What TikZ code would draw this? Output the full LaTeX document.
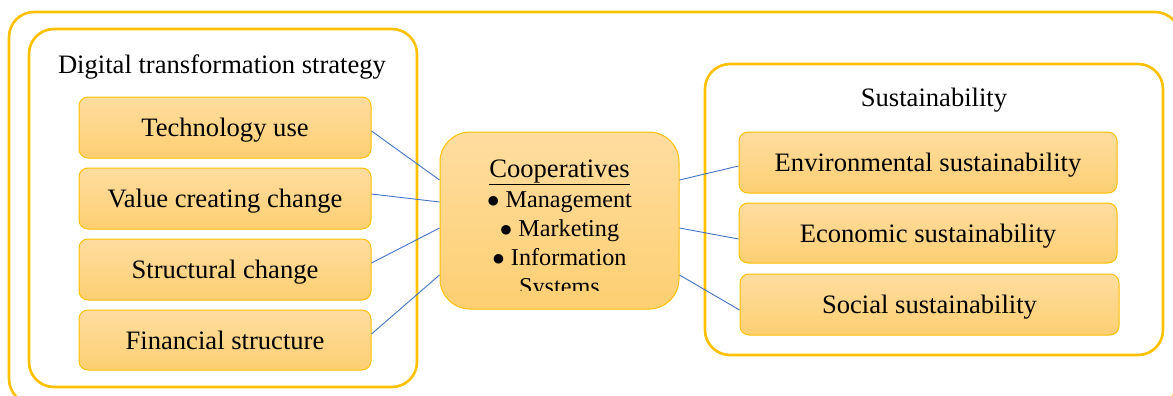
\documentclass[tikz,border=0pt]{standalone}
\usepackage{fontspec}
\setmainfont{Liberation Serif}
\definecolor{gold}{HTML}{FFC000}
\definecolor{ftop}{HTML}{FFDDA0}
\definecolor{fbot}{HTML}{FDCF72}
\definecolor{link}{HTML}{4472C4}
\tikzset{
  group/.style={draw=gold, line width=2.6pt, rounded corners=25pt, inner sep=0pt},
  item/.style={draw=gold, line width=1pt, rounded corners=9pt, top color=ftop, bottom color=fbot,
    inner sep=0pt, text height=20pt, text depth=2pt, font=\fontsize{26.6}{30}\selectfont, text=black},
  hub/.style={draw=gold, line width=1pt, rounded corners=30pt, top color=ftop, bottom color=fbot, inner sep=0pt},
  heading/.style={font=\fontsize{26.6}{30}\selectfont, inner sep=0pt},
  bul/.style={font=\fontsize{24.2}{29}\selectfont, inner sep=0pt, anchor=base},
  conn/.style={draw=link, line width=0.9pt}
}
\begin{document}
\begin{tikzpicture}[x=1pt,y=-1pt]
\useasboundingbox (0,0) rectangle (1173,396);
\clip (0,0) rectangle (1173,396);
\node[group, minimum width=1171pt, minimum height=392pt] (outer) at (594.5,208) {};
\node[group, minimum width=388pt, minimum height=358pt] (left) at (223,208) {};
\node[group, minimum width=458pt, minimum height=291pt] (right) at (934,209.5) {};
\node[heading, anchor=base] (lt) at (222,73.5) {Digital transformation strategy};
\node[heading, anchor=base] (rt) at (934,106.5) {Sustainability};

\node[item, minimum width=292pt, minimum height=61pt] (tech) at (225,127.5) {Technology use};
\node[item, minimum width=292pt, minimum height=61pt] (value) at (225,198.5) {Value creating change};
\node[item, minimum width=292pt, minimum height=61pt] (struct) at (225,269.5) {Structural change};
\node[item, minimum width=292pt, minimum height=60pt] (fin) at (225,340) {Financial structure};

\node[hub, minimum width=239pt, minimum height=177pt] (coop) at (559.5,220.5) {};
\begin{scope}
\clip (440,130) rectangle (680,290.5);
\node[bul, font=\fontsize{26.6}{30}\selectfont] (c0) at (559.5,177) {\underline{Cooperatives}};
\node[bul] (c1) at (559.5,207) {$\bullet$ Management};
\node[bul] (c2) at (559.5,236) {$\bullet$ Marketing};
\node[bul] (c3) at (559.5,265) {$\bullet$ Information};
\node[bul] (c4) at (559.5,294) {Systems};
\end{scope}

\node[item, minimum width=378pt, minimum height=61pt] (env) at (928,162.5) {Environmental sustainability};
\node[item, minimum width=378pt, minimum height=60pt] (eco) at (928,233) {Economic sustainability};
\node[item, minimum width=379pt, minimum height=61pt] (soc) at (929.5,304.5) {Social sustainability};

\draw[conn] ([yshift=-3.5pt]tech.east) -- ([yshift=40.5pt]coop.west);
\draw[conn] ([yshift=4.5pt]value.east) -- ([yshift=18.5pt]coop.west);
\draw[conn] ([yshift=6.5pt]struct.east) -- ([yshift=-7.5pt]coop.west);
\draw[conn] ([yshift=6pt]fin.east) -- ([yshift=-54.5pt]coop.west);
\draw[conn] ([yshift=40.5pt]coop.east) -- ([yshift=-3.5pt]env.west);
\draw[conn] ([yshift=-7.5pt]coop.east) -- ([yshift=-6pt]eco.west);
\draw[conn] ([yshift=-54.5pt]coop.east) -- ([yshift=-5.5pt]soc.west);
\end{tikzpicture}
\end{document}
